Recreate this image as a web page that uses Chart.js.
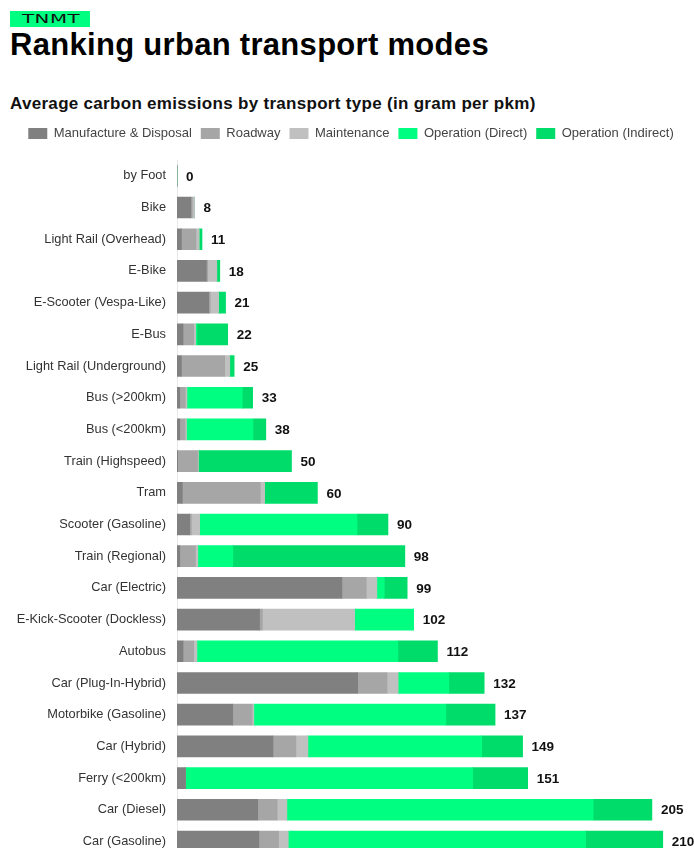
<!DOCTYPE html>
<html>
<head>
<meta charset="utf-8">
<script src="https://cdn.jsdelivr.net/npm/chart.js@4"></script>
<style>
  html, body { margin: 0; padding: 0; background: #fff; }
  body { width: 694px; height: 848px; overflow: hidden; position: relative; font-family: "Liberation Sans", Arial, sans-serif; }
  .logo { position: absolute; left: 10px; top: 11px; width: 80px; height: 16px; background: #00ff80; }
  .logo span { position: absolute; left: 12px; top: 1px; font: 12px/14px "DejaVu Sans", sans-serif; letter-spacing: 0.3px; color: #111; transform: scaleX(1.65); transform-origin: left center; }
  h1 { position: absolute; left: 10px; top: 28.7px; margin: 0; font: bold 31px/31px "Liberation Sans", Arial, sans-serif; letter-spacing: 0.3px; color: #000; white-space: nowrap; }
  h2 { position: absolute; left: 10px; top: 94.6px; margin: 0; font: bold 17px/17px "Liberation Sans", Arial, sans-serif; letter-spacing: 0.3px; color: #111; white-space: nowrap; }
  .wrap { position: absolute; left: 0; top: 118px; width: 694px; height: 758px; }
</style>
</head>
<body>
<div class="logo"><span>TNMT</span></div>
<h1>Ranking urban transport modes</h1>
<h2>Average carbon emissions by transport type (in gram per pkm)</h2>
<div class="wrap"><canvas id="chart"></canvas></div>
<script>
const categories = [
  'by Foot', 'Bike', 'Light Rail (Overhead)', 'E-Bike', 'E-Scooter (Vespa-Like)', 'E-Bus',
  'Light Rail (Underground)', 'Bus (>200km)', 'Bus (<200km)', 'Train (Highspeed)', 'Tram',
  'Scooter (Gasoline)', 'Train (Regional)', 'Car (Electric)', 'E-Kick-Scooter (Dockless)', 'Autobus',
  'Car (Plug-In-Hybrid)', 'Motorbike (Gasoline)', 'Car (Hybrid)', 'Ferry (<200km)', 'Car (Diesel)', 'Car (Gasoline)'
];

// segments in g per pkm
const manufacture = [0, 6.0, 1.9, 12.7, 13.7, 2.6, 1.9, 1.2, 1.2, 0.3, 2.3, 5.5, 1.2, 71.3, 35.7, 2.6, 78.1, 24.1, 41.5, 3.7, 34.9, 35.4];
const roadway = [0, 0.6, 6.3, 0.6, 0.7, 4.6, 18.7, 2.4, 2.3, 8.6, 33.7, 0.7, 6.8, 10.5, 1.2, 4.6, 12.7, 8.4, 9.9, 0, 8.4, 8.5];
const maintenance = [0, 1.0, 1.4, 3.9, 3.6, 0.9, 2.2, 0.7, 0.6, 0.4, 1.9, 3.6, 1.0, 4.6, 39.9, 1.4, 4.8, 0.7, 5.2, 0, 4.2, 4.2];
const opDirect = [0, 0, 0, 0, 0, 0.5, 0, 23.9, 28.7, 0, 0, 68.0, 15.1, 3.2, 25.5, 86.9, 21.9, 83.0, 75.1, 124.1, 132.4, 128.5];
const opIndirect = [0, 0, 1.2, 1.3, 3.0, 13.3, 1.9, 4.5, 5.6, 40.2, 22.8, 13.4, 74.4, 9.9, 0, 17.1, 15.3, 21.3, 17.7, 23.8, 25.4, 33.4];
const totals = [0, 8, 11, 18, 21, 22, 25, 33, 38, 50, 60, 90, 98, 99, 102, 112, 132, 137, 149, 151, 205, 210];

const FONT = '"Liberation Sans", Arial, sans-serif';

const legendSpace = {
  id: 'legendSpace',
  beforeInit(chart) {
    const fit = chart.legend.fit;
    chart.legend.fit = function () {
      fit.bind(chart.legend)();
      this.height = 42;
    };
  }
};

const totalLabels = {
  id: 'totalLabels',
  afterDatasetsDraw(chart) {
    const { ctx, scales: { x, y } } = chart;
    ctx.save();
    ctx.font = 'bold 13.5px ' + FONT;
    ctx.fillStyle = '#111';
    ctx.textBaseline = 'middle';
    ctx.textAlign = 'left';
    totals.forEach((t, i) => {
      const end = chart.data.datasets.reduce((s, ds) => s + ds.data[i], 0);
      ctx.fillText(t, x.getPixelForValue(end) + 9, y.getPixelForValue(i) + 1);
    });
    ctx.restore();
  }
};

new Chart(document.getElementById('chart'), {
  type: 'bar',
  data: {
    labels: categories,
    datasets: [
      { label: 'Manufacture & Disposal', data: manufacture, backgroundColor: '#808080' },
      { label: 'Roadway', data: roadway, backgroundColor: '#a6a6a6' },
      { label: 'Maintenance', data: maintenance, backgroundColor: '#c0c0c0' },
      { label: 'Operation (Direct)', data: opDirect, backgroundColor: '#00ff80' },
      { label: 'Operation (Indirect)', data: opIndirect, backgroundColor: '#00dc6a' }
    ]
  },
  options: {
    indexAxis: 'y',
    responsive: true,
    maintainAspectRatio: false,
    animation: false,
    layout: { padding: { left: 8, right: 0 } },
    datasets: { bar: { barThickness: 21, borderWidth: 0 } },
    plugins: {
      legend: {
        position: 'top',
        labels: {
          boxWidth: 19,
          boxHeight: 11,
          padding: 9,
          color: '#444',
          font: { family: FONT, size: 13 }
        }
      },
      tooltip: { enabled: false }
    },
    scales: {
      x: { stacked: true, display: false, min: 0, max: 223.5 },
      y: {
        stacked: true,
        afterFit(scale) { scale.width = 169; },
        grid: { display: true, color: 'rgba(0,0,0,0)', drawTicks: false },
        border: { display: true, color: '#e8e8e8', width: 1 },
        ticks: { padding: 11, color: '#333', font: { family: FONT, size: 12.8 } }
      }
    }
  },
  plugins: [legendSpace, totalLabels]
});
</script>
</body>
</html>
